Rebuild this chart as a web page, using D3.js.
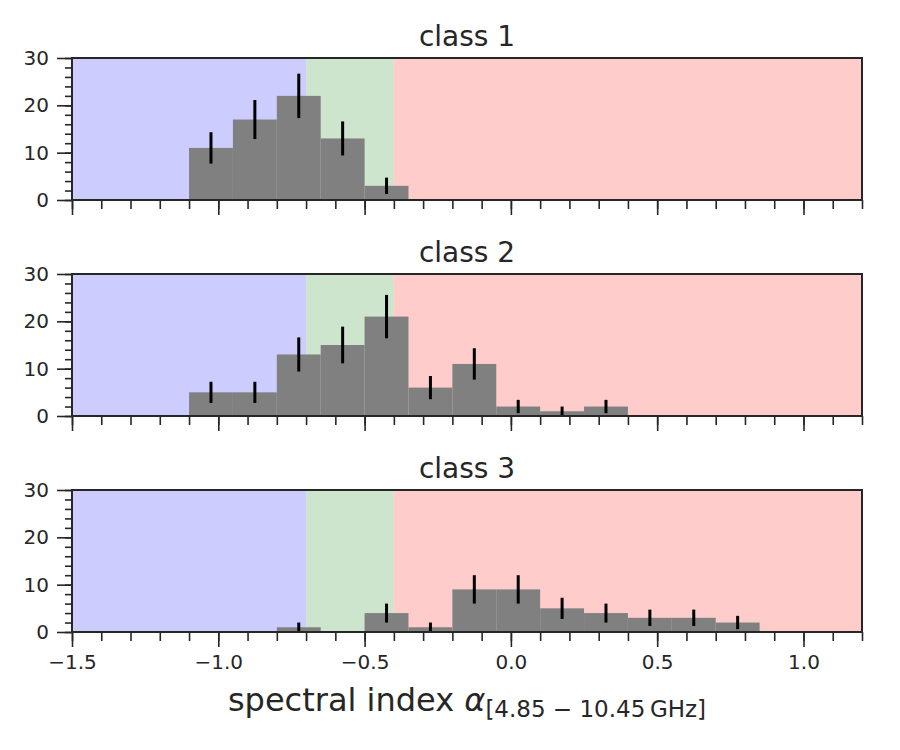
<!DOCTYPE html>
<html>
<head>
<meta charset="utf-8">
<script src="https://cdn.jsdelivr.net/npm/d3@7"></script>
<style>
  body { margin: 0; background: #fff; }
  text { font-family: "DejaVu Sans", sans-serif; fill: #262626; }
</style>
</head>
<body>
<svg id="chart" width="900" height="750"></svg>
<script>
// histogram data, bins of width 0.15 starting at -1.1
var binEdges = [-1.1, -0.95, -0.8, -0.65, -0.5, -0.35, -0.2, -0.05, 0.1, 0.25, 0.4, 0.55, 0.7, 0.85];
var classNames = ["class 1", "class 2", "class 3"];
var counts1 = [11, 17, 22, 13, 3, 0, 0, 0, 0, 0, 0, 0, 0];
var counts2 = [5, 5, 13, 15, 21, 6, 11, 2, 1, 2, 0, 0, 0];
var counts3 = [0, 0, 1, 0, 4, 1, 9, 9, 5, 4, 3, 3, 2];
var allCounts = [counts1, counts2, counts3];

// spectral regions
var regions = [
  {from: -1.5, to: -0.7, color: "#ccccff"},
  {from: -0.7, to: -0.4, color: "#cce5cc"},
  {from: -0.4, to: 1.2, color: "#ffcccc"}
];

var xDomain = [-1.5, 1.2];
var yDomain = [0, 30];
var xMajor = [-1.5, -1.0, -0.5, 0.0, 0.5, 1.0];
var yMajor = [0, 10, 20, 30];

var svg = d3.select("#chart");
var left = 72, right = 862, panelH = 142;
var tops = [58, 274, 490];

var x = d3.scaleLinear().domain(xDomain).range([left, right]);
var xMinor = d3.range(-15, 13).map(function(d) { return d / 10; });
var yMinor = d3.range(0, 31, 2);

function fmt(d) {
  return d3.format(".1f")(d).replace("-", "\u2212");
}

allCounts.forEach(function(counts, p) {
  var top = tops[p];
  var y = d3.scaleLinear().domain(yDomain).range([top + panelH, top]);
  var g = svg.append("g");

  g.selectAll("rect.region")
    .data(regions)
    .enter().append("rect")
      .attr("x", function(d) { return x(d.from); })
      .attr("width", function(d) { return x(d.to) - x(d.from); })
      .attr("y", top)
      .attr("height", panelH)
      .attr("fill", function(d) { return d.color; });

  var bins = counts.map(function(c, i) {
    return {x0: binEdges[i], x1: binEdges[i + 1], n: c};
  }).filter(function(d) { return d.n > 0; });

  g.selectAll("rect.bar")
    .data(bins)
    .enter().append("rect")
      .attr("x", function(d) { return x(d.x0); })
      .attr("width", function(d) { return x(d.x1) - x(d.x0); })
      .attr("y", function(d) { return y(d.n); })
      .attr("height", function(d) { return y(0) - y(d.n); })
      .attr("fill", "#808080");

  // poisson error bars
  g.selectAll("line.err")
    .data(bins)
    .enter().append("line")
      .attr("x1", function(d) { return x((d.x0 + d.x1) / 2); })
      .attr("x2", function(d) { return x((d.x0 + d.x1) / 2); })
      .attr("y1", function(d) { return y(d.n - Math.sqrt(d.n)); })
      .attr("y2", function(d) { return y(d.n + Math.sqrt(d.n)); })
      .attr("stroke", "#000")
      .attr("stroke-width", 3);

  // axes
  var xAx = g.append("g")
    .attr("transform", "translate(0," + (top + panelH) + ")")
    .call(d3.axisBottom(x).tickValues(xMinor).tickSize(9).tickFormat(""));
  var xAxMaj = g.append("g")
    .attr("transform", "translate(0," + (top + panelH) + ")")
    .call(d3.axisBottom(x).tickValues(xMajor).tickSize(15).tickPadding(8)
      .tickFormat(p == 2 ? fmt : ""));
  var yAx = g.append("g")
    .attr("transform", "translate(" + left + ",0)")
    .call(d3.axisLeft(y).tickValues(yMinor).tickSize(7).tickFormat(""));
  var yAxMaj = g.append("g")
    .attr("transform", "translate(" + left + ",0)")
    .call(d3.axisLeft(y).tickValues(yMajor).tickSize(15).tickPadding(8));

  [xAx, xAxMaj, yAx, yAxMaj].forEach(function(a) {
    a.select(".domain").remove();
    a.selectAll("line").attr("stroke", "#262626").attr("stroke-width", 1.6);
    a.selectAll("text").attr("font-size", 20).attr("fill", "#262626")
      .style("font-family", "DejaVu Sans");
  });

  g.append("rect")
    .attr("x", left).attr("y", top)
    .attr("width", right - left).attr("height", panelH)
    .attr("fill", "none").attr("stroke", "#262626").attr("stroke-width", 2);

  g.append("text")
    .attr("x", (left + right) / 2)
    .attr("y", top - 12)
    .attr("text-anchor", "middle")
    .attr("font-size", 28)
    .text(classNames[p]);
});

// x label
var lab = svg.append("text")
  .attr("x", (left + right) / 2)
  .attr("y", 711)
  .attr("text-anchor", "middle")
  .attr("font-size", 32);
lab.append("tspan").text("spectral index ");
lab.append("tspan").attr("font-style", "italic").text("\u03b1");
lab.append("tspan").attr("font-size", 23).attr("dy", 6).text("[4.85 \u2212 10.45\u2009GHz]");
</script>
</body>
</html>
